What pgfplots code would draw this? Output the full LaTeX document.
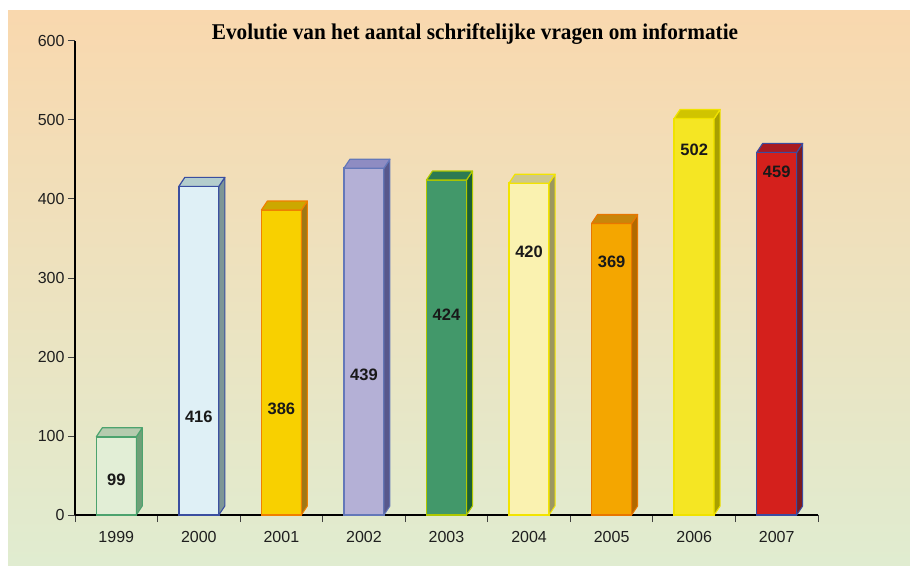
\documentclass[border=0pt]{standalone}
\usepackage{pgfplots}
\pgfplotsset{compat=1.18}
\usepackage{fontspec}
\setmainfont{Liberation Sans}
\newfontfamily\titlefont{Liberation Serif}
\definecolor{bgtop}{RGB}{249,216,174}
\definecolor{bgbot}{RGB}{224,236,208}
\definecolor{labelc}{RGB}{25,25,25}
% 1999
\definecolor{f0}{RGB}{226,238,214}\definecolor{e0}{RGB}{76,163,110}\definecolor{t0}{RGB}{181,203,174}\definecolor{s0}{RGB}{110,160,120}
% 2000
\definecolor{f1}{RGB}{223,240,246}\definecolor{e1}{RGB}{58,78,160}\definecolor{t1}{RGB}{180,205,205}\definecolor{s1}{RGB}{125,150,150}
% 2001
\definecolor{f2}{RGB}{248,208,0}\definecolor{e2}{RGB}{240,128,0}\definecolor{t2}{RGB}{204,168,0}\definecolor{s2}{RGB}{160,120,20}
% 2002
\definecolor{f3}{RGB}{180,176,214}\definecolor{e3}{RGB}{100,120,185}\definecolor{t3}{RGB}{142,140,194}\definecolor{s3}{RGB}{88,88,140}
% 2003
\definecolor{f4}{RGB}{66,152,106}\definecolor{e4}{RGB}{176,200,0}\definecolor{t4}{RGB}{44,122,82}\definecolor{s4}{RGB}{28,94,52}
% 2004
\definecolor{f5}{RGB}{250,242,176}\definecolor{e5}{RGB}{242,228,0}\definecolor{t5}{RGB}{206,200,140}\definecolor{s5}{RGB}{155,150,96}
% 2005
\definecolor{f6}{RGB}{244,166,0}\definecolor{e6}{RGB}{232,118,0}\definecolor{t6}{RGB}{200,134,10}\definecolor{s6}{RGB}{178,106,0}
% 2006
\definecolor{f7}{RGB}{245,230,35}\definecolor{e7}{RGB}{240,226,0}\definecolor{t7}{RGB}{208,196,0}\definecolor{s7}{RGB}{168,160,0}
% 2007
\definecolor{f8}{RGB}{212,32,28}\definecolor{e8}{RGB}{60,76,160}\definecolor{t8}{RGB}{168,26,34}\definecolor{s8}{RGB}{122,26,32}

\pgfdeclareplotmark{emptymark}{}

\pgfplotsset{
  bar3d/.style={
    ybar, bar width=40pt, bar shift=0pt,
    fill=f#1, draw=e#1, line width=1.5pt,
    scatter, mark=emptymark, scatter/use mapped color={},
    visualization depends on={value \thisrow{y} \as \barh},
    scatter/@pre marker code/.code={
      \pgfmathsetmacro\hh{\barh*0.79}
      \filldraw[fill=s#1, draw=e#1, line width=1pt, line join=round]
        (20pt,0pt) -- (26pt,9pt) -- (26pt,9pt-\hh pt) -- (20pt,-\hh pt) -- cycle;
      \filldraw[fill=t#1, draw=e#1, line width=1.2pt, line join=round]
        (-20pt,0pt) -- (20pt,0pt) -- (26pt,9pt) -- (-14pt,9pt) -- cycle;
    },
    scatter/@post marker code/.code={},
  }
}

\begin{document}
\begin{tikzpicture}
\useasboundingbox (0pt,0pt) rectangle (910pt,565pt);
\fill[white] (0pt,0pt) rectangle (910pt,565pt);
\shade[top color=bgtop, bottom color=bgbot] (8pt,0pt) rectangle (910pt,554pt);
\node[anchor=base] at (475pt,525pt) {\scalebox{0.945}[1]{\titlefont\bfseries\fontsize{22.5}{23}\selectfont Evolutie van het aantal schriftelijke vragen om informatie}};
\begin{axis}[
  at={(75pt,50pt)}, anchor=south west,
  scale only axis, width=743pt, height=474pt,
  xmin=-0.5, xmax=8.5, ymin=0, ymax=600,
  axis lines=left, axis line style={-, line width=1.2pt, black},
  tick align=outside, major tick length=7pt,
  tick style={line width=1pt, black!75},
  ytick={0,100,...,600},
  xtick={-0.5,0.5,...,8.5}, xticklabels={},
  extra x ticks={0,1,2,3,4,5,6,7,8},
  extra x tick labels={1999,2000,2001,2002,2003,2004,2005,2006,2007},
  extra x tick style={major tick length=0pt},
  x tick label style={yshift=-13pt},
  /pgf/number format/assume math mode=true,
  ticklabel style={font=\fontsize{16}{17}\selectfont, text=black!88},
]
\addplot[bar3d=0] table[row sep=\\] {x y\\ 0 99\\};
\addplot[bar3d=1] table[row sep=\\] {x y\\ 1 416\\};
\addplot[bar3d=2] table[row sep=\\] {x y\\ 2 386\\};
\addplot[bar3d=3] table[row sep=\\] {x y\\ 3 439\\};
\addplot[bar3d=4] table[row sep=\\] {x y\\ 4 424\\};
\addplot[bar3d=5] table[row sep=\\] {x y\\ 5 420\\};
\addplot[bar3d=6] table[row sep=\\] {x y\\ 6 369\\};
\addplot[bar3d=7] table[row sep=\\] {x y\\ 7 502\\};
\addplot[bar3d=8] table[row sep=\\] {x y\\ 8 459\\};
% value labels (placed where the original shows them)
\addplot[draw=none, nodes near coords, point meta=explicit symbolic,
  every node near coord/.append style={anchor=center, font=\bfseries\fontsize{16.5}{17}\selectfont, text=labelc}]
  coordinates {(0,44)[99] (1,124)[416] (2,134)[386] (3,177)[439] (4,253)[424] (5,333)[420] (6,320)[369] (7,462)[502] (8,434)[459]};
\end{axis}
\end{tikzpicture}
\end{document}
